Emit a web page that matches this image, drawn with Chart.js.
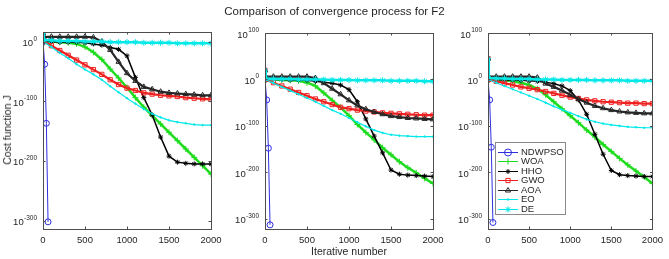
<!DOCTYPE html>
<html>
<head>
<meta charset="utf-8">
<script src="https://cdn.jsdelivr.net/npm/chart.js@4.4.0/dist/chart.umd.min.js"></script>
<style>
  body { margin: 0; background: #fff; }
  #lienzo { position: relative; width: 669px; height: 259px; font-family: "Liberation Sans", Arial, sans-serif; color: #262626; }
  #lienzo canvas { position: absolute; left: 0; top: 0; }
  #titulo { position: absolute; left: 0; top: 5px; width: 669px; text-align: center; font-size: 11.5px; }
  #etiquetaX { position: absolute; left: 265px; width: 168px; top: 245px; text-align: center; font-size: 10.5px; }
  #etiquetaY { position: absolute; left: 7px; top: 130px; font-size: 10.5px; white-space: nowrap;
               transform: translate(-50%, -50%) rotate(-90deg); }
</style>
</head>
<body>
<div id="lienzo">
  <canvas id="panel1" width="669" height="259"></canvas>
  <canvas id="panel2" width="669" height="259"></canvas>
  <canvas id="panel3" width="669" height="259"></canvas>
  <div id="titulo">Comparison of convergence process for F2</div>
  <div id="etiquetaY">Cost function J</div>
  <div id="etiquetaX">Iterative number</div>
</div>
<script>
// iteraciones donde se leyeron los valores (exponente de 10 del costo)
const iteraciones = [0, 10, 100, 200, 300, 400, 500, 600, 700, 800, 900, 1000,
                     1100, 1200, 1300, 1400, 1500, 1600, 1700, 1800, 1900, 2000];
const iterNDWPSO = [0, 20, 40, 60];
const nombres = ['NDWPSO', 'WOA', 'HHO', 'GWO', 'AOA', 'EO', 'DE'];
const ticksX = [0, 500, 1000, 1500, 2000];
const ticksY1 = [-300, -200, -100, 0];
const ticksY2 = [-300, -200, -100, 0, 100];

// panel 1
const ndwpso1 = [0, -38, -137, -302];
const woa1 = [0, 0, 0, -1, -2, -4, -9, -18, -30, -46, -61, -77, -94, -110, -124, -138, -152, -166, -180, -194, -208, -222];
const hho1 = [0, 0, 0, -1, -1, -1, -2, -4, -6, -10, -13, -24, -60, -94, -123, -160, -192, -202, -204, -205, -205, -205];
const gwo1 = [14, 0, -7, -15, -23, -31, -39, -47, -55, -64, -72, -78, -82, -86, -88, -90, -91, -92, -94, -95, -96, -97];
const aoa1 = [14, 8, 8, 8, 8, 8, 8, 7, 0, -14, -34, -53, -66, -76, -80, -84, -86, -87, -88, -89, -90, -90];
const eo1 = [0, 0, -9, -19, -28, -38, -47, -55, -64, -75, -85, -95, -104, -113, -121, -127, -132, -135, -137, -139, -140, -140];
const de1 = [14, 2, 2, 1, 1, 1, 0, 0, 0, -1, -1, -1, -1, -2, -2, -2, -2, -3, -3, -3, -3, -3];

// panel 2
const ndwpso2 = [0, -44, -148, -313];
const woa2 = [0, 0, 0, -1, -2, -3, -7, -14, -29, -45, -60, -78, -97, -114, -130, -147, -162, -177, -190, -201, -213, -224];
const hho2 = [0, 0, 0, 0, -1, -1, -2, -4, -6, -8, -12, -22, -48, -85, -122, -158, -195, -204, -206, -207, -208, -209];
const gwo2 = [20, 0, -7, -14, -21, -28, -35, -42, -48, -54, -60, -63, -66, -68, -70, -72, -73, -74, -75, -76, -77, -77];
const aoa2 = [20, 6, 6, 6, 6, 6, 6, 3, -8, -20, -32, -45, -56, -64, -70, -75, -79, -81, -83, -84, -85, -86];
const eo2 = [0, 0, -8, -16, -24, -32, -40, -48, -57, -66, -74, -83, -92, -101, -109, -115, -119, -121, -122, -123, -123, -123];
const de2 = [20, 2, 1, 1, 1, 0, 0, 0, 0, -1, -1, -1, -2, -2, -2, -2, -3, -3, -3, -3, -4, -4];

// panel 3
const ndwpso3 = [0, -44, -146, -308];
const woa3 = [0, 0, 0, -2, -4, -7, -12, -20, -33, -48, -63, -78, -93, -109, -124, -140, -155, -170, -184, -197, -210, -224];
const hho3 = [0, 0, 0, -1, -1, -2, -3, -4, -6, -9, -14, -24, -44, -75, -118, -161, -196, -205, -207, -208, -209, -209];
const gwo3 = [45, 0, -4, -8, -12, -16, -19, -22, -26, -30, -34, -38, -41, -44, -46, -48, -49, -50, -51, -51, -52, -52];
const aoa3 = [45, 6, 6, 6, 6, 6, 6, 4, -9, -16, -24, -33, -42, -50, -57, -62, -66, -69, -71, -72, -73, -73];
const eo3 = [0, 0, -7, -14, -21, -28, -35, -42, -50, -58, -65, -72, -79, -86, -91, -95, -98, -100, -102, -103, -104, -104];
const de3 = [45, 3, 2, 2, 1, 1, 1, 0, 0, 0, -1, -1, -1, -1, -2, -2, -2, -2, -3, -3, -3, -3];

const fuente = '"Liberation Sans", Arial, sans-serif';
const estilos = [
    { color: '#2f2fe0', linea: 1, punto: 'circle', radio: 3 },
    { color: '#1fdc1f', linea: 2.5, punto: 'cross', radio: 3 },
    { color: '#000000', linea: 1.5, punto: 'star', radio: 2.5 },
    { color: '#ee2020', linea: 2.2, punto: 'rect', radio: 3 },
    { color: '#262626', linea: 2.2, punto: 'triangle', radio: 3 },
    { color: '#00e8e8', linea: 1.2, punto: 'circle', radio: 0.8 },
    { color: '#00e8e8', linea: 2.5, punto: 'star', radio: 3 }
];

const marco = {
    id: 'marco',
    afterDatasetsDraw(chart) {
        const ctx = chart.ctx;
        const a = chart.chartArea;
        const sx = chart.scales.x, sy = chart.scales.y;
        ctx.save();
        ctx.strokeStyle = '#4d4d4d';
        ctx.lineWidth = 1;
        ctx.strokeRect(Math.round(a.left) + 0.5, Math.round(a.top) + 0.5,
                       Math.round(a.right - a.left), Math.round(a.bottom - a.top));
        ctx.beginPath();
        sx.ticks.forEach(t => {
            const px = Math.round(sx.getPixelForValue(t.value)) + 0.5;
            ctx.moveTo(px, a.bottom); ctx.lineTo(px, a.bottom - 2.5);
            ctx.moveTo(px, a.top); ctx.lineTo(px, a.top + 2.5);
        });
        sy.ticks.forEach(t => {
            const py = Math.round(sy.getPixelForValue(t.value)) + 0.5;
            ctx.moveTo(a.left, py); ctx.lineTo(a.left + 2.5, py);
            ctx.moveTo(a.right, py); ctx.lineTo(a.right - 2.5, py);
        });
        ctx.stroke();

        // etiquetas del eje y: 10 con exponente en superindice
        ctx.fillStyle = '#262626';
        ctx.textAlign = 'right';
        ctx.textBaseline = 'alphabetic';
        sy.ticks.forEach(t => {
            const py = sy.getPixelForValue(t.value);
            const xDer = a.left - 6;
            ctx.font = '6.5px ' + fuente;
            const exp = String(t.value);
            ctx.fillText(exp, xDer, py - 1);
            const w = ctx.measureText(exp).width;
            ctx.font = '9.5px ' + fuente;
            ctx.fillText('10', xDer - w - 0.3, py + 4.5);
        });
        ctx.restore();
    }
};

const leyenda = {
    id: 'leyenda',
    afterDraw(chart) {
        const ctx = chart.ctx;
        const x0 = 495, y0 = 142, ancho = 70, alto = 72;
        ctx.save();
        ctx.fillStyle = '#ffffff';
        ctx.fillRect(x0, y0, ancho, alto);
        ctx.strokeStyle = '#8a8a8a';
        ctx.lineWidth = 1;
        ctx.strokeRect(x0 + 0.5, y0 + 0.5, ancho, alto);
        chart.data.datasets.forEach((ds, i) => {
            const y = Math.round(y0 + 9.5 + i * 9.55) + 0.5;
            ctx.strokeStyle = ds.borderColor;
            ctx.lineWidth = 1;
            ctx.beginPath();
            ctx.moveTo(x0 + 3, y);
            ctx.lineTo(x0 + 23, y);
            ctx.stroke();
            ctx.fillStyle = ds.pointBackgroundColor;
            Chart.helpers.drawPoint(ctx, { pointStyle: ds.pointStyle, radius: i === 0 ? 3.5 : ds.pointRadius, rotation: 0, borderWidth: 1 }, x0 + 13, y);
            ctx.fillStyle = '#262626';
            ctx.font = '9.5px ' + fuente;
            ctx.textBaseline = 'middle';
            ctx.fillText(ds.label, x0 + 26, y);
        });
        ctx.restore();
    }
};

function dibujarPanel(id, caja, series, ticksY, conLeyenda) {
    const datasets = series.map((valores, i) => {
        const xs = i === 0 ? iterNDWPSO : iteraciones;
        const e = estilos[i];
        return {
            label: nombres[i],
            data: valores.map((v, k) => ({ x: xs[k], y: v })),
            borderColor: e.color,
            borderWidth: e.linea,
            pointStyle: e.punto,
            pointRadius: e.radio,
            pointBorderColor: e.color,
            pointBorderWidth: 1,
            pointBackgroundColor: i === 5 ? e.color : 'rgba(0,0,0,0)',
            tension: 0,
            order: series.length - i
        };
    });

    new Chart(document.getElementById(id), {
        type: 'line',
        data: { datasets: datasets },
        options: {
            responsive: false,
            animation: false,
            events: [],
            layout: {
                padding: { left: caja.left - 40, right: 669 - caja.right, top: caja.top, bottom: 259 - caja.bottom - 20 }
            },
            plugins: { legend: { display: false }, tooltip: { enabled: false } },
            scales: {
                x: {
                    type: 'linear', min: 0, max: 2000,
                    afterFit: s => { s.height = 20; },
                    afterBuildTicks: s => { s.ticks = ticksX.map(v => ({ value: v })); },
                    grid: { display: false, drawTicks: false },
                    border: { display: false },
                    ticks: { padding: 6, color: '#262626', maxRotation: 0, font: { family: fuente, size: 9.5 },
                             callback: v => String(v) }
                },
                y: {
                    type: 'linear', min: caja.yMin, max: caja.yMax,
                    afterFit: s => { s.width = 40; },
                    afterBuildTicks: s => { s.ticks = ticksY.map(v => ({ value: v })); },
                    grid: { display: false, drawTicks: false },
                    border: { display: false },
                    ticks: { display: false }
                }
            }
        },
        plugins: conLeyenda ? [marco, leyenda] : [marco]
    });
}

dibujarPanel('panel1', { left: 43, right: 211, top: 32, bottom: 229, yMin: -314, yMax: 16 },
             [ndwpso1, woa1, hho1, gwo1, aoa1, eo1, de1], ticksY1, false);
dibujarPanel('panel2', { left: 265, right: 433, top: 33, bottom: 229, yMin: -322, yMax: 100 },
             [ndwpso2, woa2, hho2, gwo2, aoa2, eo2, de2], ticksY2, false);
dibujarPanel('panel3', { left: 488, right: 656, top: 33, bottom: 229, yMin: -322, yMax: 100 },
             [ndwpso3, woa3, hho3, gwo3, aoa3, eo3, de3], ticksY2, true);
</script>
</body>
</html>
